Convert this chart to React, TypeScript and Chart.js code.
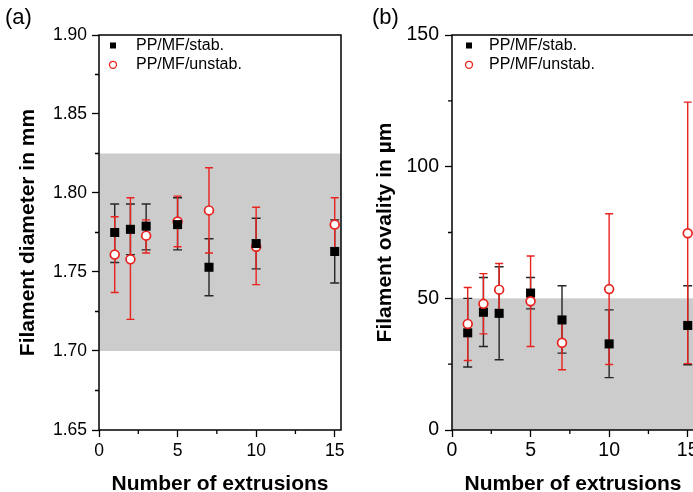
import React, { useEffect, useRef } from 'react';
import { Chart, registerables } from 'chart.js';

Chart.register(...registerables);
Chart.defaults.font.family = '"Liberation Sans", Arial, sans-serif';
Chart.defaults.color = '#000';

// ---------- data ----------
const extrusions = [1, 2, 3, 5, 7, 10, 15];

// (a) filament diameter in mm
const diamStabMean = [1.775, 1.777, 1.779, 1.780, 1.753, 1.768, 1.763];
const diamStabLow = [1.756, 1.761, 1.764, 1.764, 1.735, 1.752, 1.743];
const diamStabHigh = [1.793, 1.793, 1.793, 1.797, 1.771, 1.784, 1.783];
const diamUnstabMean = [1.761, 1.758, 1.773, 1.782, 1.789, 1.766, 1.780];
const diamUnstabLow = [1.737, 1.720, 1.762, 1.766, 1.762, 1.742, 1.764];
const diamUnstabHigh = [1.785, 1.797, 1.783, 1.798, 1.816, 1.791, 1.797];
const diamBand = [1.70, 1.825];
const diamMajorTicks = [1.65, 1.70, 1.75, 1.80, 1.85, 1.90];
const diamMinorTicks = [1.675, 1.725, 1.775, 1.825, 1.875];

// (b) filament ovality in µm
const ovalStabMean = [36.9, 44.7, 44.3, 52.0, 41.8, 32.7, 39.7];
const ovalStabLow = [23.9, 31.7, 26.7, 46.0, 29.2, 19.9, 24.8];
const ovalStabHigh = [50.0, 57.9, 62.0, 57.9, 54.8, 45.6, 54.8];
const ovalUnstabMean = [40.3, 47.9, 53.3, 48.9, 33.1, 53.5, 74.7];
const ovalUnstabLow = [26.4, 36.5, 43.5, 31.7, 22.9, 24.9, 25.2];
const ovalUnstabHigh = [54.1, 59.4, 63.2, 66.1, 42.8, 82.1, 124.5];
const ovalBand = [0, 50];
const ovalMajorTicks = [0, 50, 100, 150];
const ovalMinorTicks = [25, 75, 125];

const xMajorTicks = [0, 5, 10, 15];
const xMinorTicks = [2.5, 7.5, 12.5];
const seriesLabels = ['PP/MF/stab.', 'PP/MF/unstab.'];

const RED = '#e8221e';
const BLACK = '#000000';
const BAR_BLACK = '#262626';
const GRAY = '#cccccc';

type Series = { mean: number[]; low: number[]; high: number[] };
type Panel = {
  tag: string;
  yTitle: string;
  yMin: number;
  yMax: number;
  yMajor: number[];
  yMinor: number[];
  yFmt: (v: number) => string;
  band: number[];
  stab: Series;
  unstab: Series;
  redOnTop: boolean;
  yAxisWidth: number;
  padRight: number;
  yTitlePad: number;
  legendDx: number;
  tickFont: number;
  xTickPad: number;
  yTickPad: number;
};

function makeChart(canvas: HTMLCanvasElement, p: Panel) {
  const decor = {
    id: 'decor',
    beforeDatasetsDraw(chart: any) {
      const { ctx, chartArea: a, scales } = chart;
      const xs = scales.x;
      const ys = scales.y;
      ctx.save();
      // gray tolerance band
      const yTop = ys.getPixelForValue(p.band[1]);
      const yBot = ys.getPixelForValue(p.band[0]);
      ctx.fillStyle = GRAY;
      ctx.fillRect(a.left, yTop, a.right - a.left, yBot - yTop);
      // error bars
      const drawBars = (s: Series, color: string, half: number) => {
        ctx.strokeStyle = color;
        ctx.lineWidth = 1.4;
        extrusions.forEach((x, i) => {
          const px = xs.getPixelForValue(x);
          const y1 = ys.getPixelForValue(s.high[i]);
          const y2 = ys.getPixelForValue(s.low[i]);
          ctx.beginPath();
          ctx.moveTo(px, y1);
          ctx.lineTo(px, y2);
          ctx.moveTo(px - half, y1);
          ctx.lineTo(px + half, y1);
          ctx.moveTo(px - half, y2);
          ctx.lineTo(px + half, y2);
          ctx.stroke();
        });
      };
      drawBars(p.stab, BAR_BLACK, 4.5);
      drawBars(p.unstab, RED, 4);
      ctx.restore();
    },
    afterDraw(chart: any) {
      const { ctx, chartArea: a, scales } = chart;
      const xs = scales.x;
      const ys = scales.y;
      ctx.save();
      // minor ticks
      ctx.strokeStyle = BLACK;
      ctx.lineWidth = 1.3;
      ctx.beginPath();
      xMinorTicks.forEach((v) => {
        const px = xs.getPixelForValue(v);
        ctx.moveTo(px, a.bottom);
        ctx.lineTo(px, a.bottom + 4);
      });
      p.yMinor.forEach((v) => {
        const py = ys.getPixelForValue(v);
        ctx.moveTo(a.left - 4, py);
        ctx.lineTo(a.left, py);
      });
      ctx.stroke();
      // frame
      ctx.lineWidth = 1.5;
      ctx.strokeRect(a.left, a.top, a.right - a.left, a.bottom - a.top);
      // legend
      const rows = [a.top + 10.5, a.top + 29.8];
      const mx = a.left + p.legendDx;
      ctx.fillStyle = BLACK;
      ctx.fillRect(mx - 3, rows[0] - 3, 6, 6);
      ctx.beginPath();
      ctx.arc(mx, rows[1], 3.5, 0, Math.PI * 2);
      ctx.fillStyle = '#fff';
      ctx.fill();
      ctx.strokeStyle = RED;
      ctx.lineWidth = 1.3;
      ctx.stroke();
      ctx.fillStyle = BLACK;
      ctx.font = '16px "Liberation Sans", Arial, sans-serif';
      ctx.textBaseline = 'middle';
      ctx.textAlign = 'left';
      chart.data.datasets.forEach((d: any, i: number) => {
        ctx.fillText(d.label, a.left + 37, rows[i]);
      });
      ctx.restore();
    },
  };

  return new Chart(canvas, {
    type: 'scatter',
    data: {
      datasets: [
        {
          label: seriesLabels[0],
          data: extrusions.map((x, i) => ({ x, y: p.stab.mean[i] })),
          pointStyle: 'rect',
          pointRadius: 6.4,
          pointHoverRadius: 6.4,
          backgroundColor: BLACK,
          borderColor: BLACK,
          borderWidth: 0,
          order: p.redOnTop ? 1 : 0,
        },
        {
          label: seriesLabels[1],
          data: extrusions.map((x, i) => ({ x, y: p.unstab.mean[i] })),
          pointStyle: 'circle',
          pointRadius: 4.4,
          pointHoverRadius: 4.4,
          backgroundColor: '#ffffff',
          borderColor: RED,
          borderWidth: 1.7,
          order: p.redOnTop ? 0 : 1,
        },
      ],
    },
    options: {
      responsive: false,
      animation: false,
      devicePixelRatio: 1,
      events: [],
      layout: { padding: { left: 5, right: p.padRight, top: 0, bottom: 0 } },
      plugins: {
        legend: { display: false },
        tooltip: { enabled: false },
        title: {
          display: true,
          text: p.tag,
          align: 'start',
          color: BLACK,
          font: { size: 22, weight: 'normal' },
          padding: { top: 5.2, bottom: 3.4 },
        },
      },
      scales: {
        x: {
          type: 'linear',
          min: 0,
          max: 15.4,
          afterBuildTicks: (s: any) => {
            s.ticks = xMajorTicks.map((v) => ({ value: v }));
          },
          afterFit: (s: any) => {
            s.height = 70;
          },
          ticks: { color: BLACK, font: { size: p.tickFont }, padding: p.xTickPad, callback: (v: any) => String(v) },
          grid: { display: true, drawOnChartArea: false, drawTicks: true, tickLength: 7, color: BLACK, tickWidth: 1.3 },
          border: { display: false },
          title: {
            display: true,
            text: 'Number of extrusions',
            color: BLACK,
            font: { size: 21, weight: 'bold' },
            padding: { top: 0, bottom: 3 },
          },
        },
        y: {
          type: 'linear',
          min: p.yMin,
          max: p.yMax,
          afterBuildTicks: (s: any) => {
            s.ticks = p.yMajor.map((v) => ({ value: v }));
          },
          afterFit: (s: any) => {
            s.width = p.yAxisWidth;
          },
          ticks: { color: BLACK, font: { size: p.tickFont }, padding: p.yTickPad, callback: (v: any) => p.yFmt(Number(v)) },
          grid: { display: true, drawOnChartArea: false, drawTicks: true, tickLength: 7, color: BLACK, tickWidth: 1.3 },
          border: { display: false },
          title: {
            display: true,
            text: p.yTitle,
            color: BLACK,
            font: { size: 21, weight: 'bold' },
            padding: { top: p.yTitlePad, bottom: 0 },
          },
        },
      },
    } as any,
    plugins: [decor],
  } as any);
}

export default function App() {
  const leftRef = useRef<HTMLCanvasElement>(null);
  const rightRef = useRef<HTMLCanvasElement>(null);

  useEffect(() => {
    const a = makeChart(leftRef.current!, {
      tag: '(a)',
      yTitle: 'Filament diameter in mm',
      yMin: 1.65,
      yMax: 1.9,
      yMajor: diamMajorTicks,
      yMinor: diamMinorTicks,
      yFmt: (v) => v.toFixed(2),
      band: diamBand,
      stab: { mean: diamStabMean, low: diamStabLow, high: diamStabHigh },
      unstab: { mean: diamUnstabMean, low: diamUnstabLow, high: diamUnstabHigh },
      redOnTop: false,
      yAxisWidth: 94,
      padRight: 9,
      yTitlePad: 11,
      legendDx: 14,
      tickFont: 17.5,
      xTickPad: 4,
      yTickPad: 5,
    });
    const b = makeChart(rightRef.current!, {
      tag: '(b)',
      yTitle: 'Filament ovality in µm',
      yMin: 0,
      yMax: 150,
      yMajor: ovalMajorTicks,
      yMinor: ovalMinorTicks,
      yFmt: (v) => String(v),
      band: ovalBand,
      stab: { mean: ovalStabMean, low: ovalStabLow, high: ovalStabHigh },
      unstab: { mean: ovalUnstabMean, low: ovalUnstabLow, high: ovalUnstabHigh },
      redOnTop: true,
      yAxisWidth: 80,
      padRight: 13,
      yTitlePad: 1,
      legendDx: 17,
      tickFont: 19.5,
      xTickPad: 2,
      yTickPad: 6,
    });
    return () => {
      a.destroy();
      b.destroy();
    };
  }, []);

  return (
    <div
      style={{
        position: 'fixed',
        left: 0,
        top: 0,
        width: 693,
        height: 492,
        overflow: 'hidden',
        background: '#fff',
      }}
    >
      <canvas ref={leftRef} width={350} height={500} style={{ position: 'absolute', left: 0, top: 0 }} />
      <canvas ref={rightRef} width={340} height={500} style={{ position: 'absolute', left: 367, top: 0 }} />
    </div>
  );
}
